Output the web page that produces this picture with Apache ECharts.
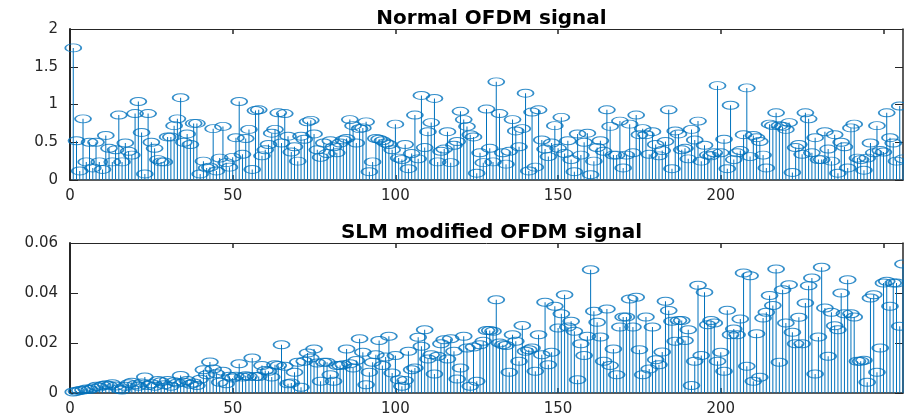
<!DOCTYPE html>
<html>
<head>
<meta charset="utf-8">
<script src="https://cdn.jsdelivr.net/npm/echarts@6/dist/echarts.min.js"></script>
<style>
html,body{margin:0;padding:0;background:#fff;}
#chart{width:904px;height:420px;}
</style>
</head>
<body>
<div id="chart"></div>
<script>
// ---- data ----
const titles = ['Normal OFDM signal', 'SLM modified OFDM signal'];
const xTicks = [0, 50, 100, 150, 200, 250];
const xMax = 256;

// |x[n]| of the normal OFDM signal, n = 1..256
const normalSignal = [
1.75,0.52,0.12,0.81,0.24,0.50,0.16,0.50,0.24,0.14,
0.59,0.42,0.24,0.40,0.86,0.24,0.49,0.38,0.33,0.88,
1.04,0.63,0.08,0.88,0.50,0.42,0.27,0.24,0.24,0.57,
0.57,0.72,0.81,1.09,0.50,0.61,0.47,0.75,0.75,0.08,
0.25,0.16,0.17,0.68,0.12,0.29,0.71,0.23,0.17,0.30,
0.56,1.04,0.34,0.55,0.67,0.14,0.92,0.93,0.32,0.40,
0.47,0.62,0.67,0.89,0.49,0.88,0.58,0.37,0.44,0.25,
0.58,0.54,0.77,0.79,0.61,0.40,0.30,0.49,0.35,0.52,
0.44,0.36,0.49,0.53,0.55,0.80,0.72,0.49,0.68,0.69,
0.77,0.11,0.24,0.55,0.54,0.52,0.49,0.47,0.40,0.74,
0.29,0.27,0.47,0.15,0.35,0.86,0.28,1.12,0.43,0.64,
0.76,1.08,0.24,0.38,0.41,0.64,0.23,0.46,0.51,0.91,
0.80,0.71,0.60,0.57,0.09,0.36,0.23,0.94,0.42,0.24,
1.30,0.88,0.36,0.21,0.38,0.80,0.65,0.44,0.68,1.15,
0.12,0.90,0.17,0.93,0.53,0.41,0.31,0.49,0.72,0.42,
0.83,0.35,0.52,0.27,0.11,0.61,0.33,0.50,0.62,0.07,
0.25,0.43,0.52,0.38,0.93,0.71,0.33,0.33,0.78,0.16,
0.33,0.74,0.36,0.86,0.60,0.68,0.60,0.34,0.64,0.47,
0.32,0.39,0.51,0.93,0.15,0.65,0.61,0.40,0.42,0.28,
0.67,0.53,0.78,0.25,0.46,0.33,0.32,0.36,1.25,0.36,
0.54,0.15,0.99,0.27,0.36,0.39,0.60,1.22,0.31,0.59,
0.56,0.51,0.33,0.16,0.74,0.72,0.89,0.72,0.71,0.67,
0.76,0.10,0.43,0.47,0.34,0.89,0.81,0.36,0.56,0.27,
0.27,0.64,0.41,0.25,0.60,0.09,0.50,0.44,0.16,0.69,
0.74,0.29,0.27,0.13,0.29,0.49,0.36,0.72,0.39,0.37,
0.89,0.56,0.49,0.25,0.98,0.28
];

// |x[n]| of the SLM modified OFDM signal, n = 1..256
const slmSignal = [
0.0004,0.0007,0.0010,0.0012,0.0016,0.0014,0.0020,0.0027,0.0024,0.0030,
0.0033,0.0030,0.0037,0.0028,0.0016,0.0012,0.0027,0.0037,0.0043,0.0033,
0.0027,0.0040,0.0064,0.0030,0.0037,0.0027,0.0050,0.0045,0.0033,0.0050,
0.0027,0.0045,0.0040,0.0070,0.0043,0.0050,0.0035,0.0040,0.0030,0.0055,
0.0093,0.0073,0.0124,0.0096,0.0077,0.0043,0.0087,0.0037,0.0067,0.0060,
0.0067,0.0117,0.0064,0.0069,0.0066,0.0140,0.0066,0.0066,0.0110,0.0090,
0.0087,0.0064,0.0113,0.0110,0.0193,0.0107,0.0037,0.0040,0.0083,0.0123,
0.0023,0.0127,0.0160,0.0140,0.0176,0.0120,0.0047,0.0123,0.0123,0.0073,
0.0047,0.0110,0.0110,0.0113,0.0176,0.0117,0.0100,0.0130,0.0217,0.0163,
0.0033,0.0083,0.0123,0.0153,0.0210,0.0110,0.0144,0.0227,0.0080,0.0150,
0.0053,0.0027,0.0050,0.0167,0.0093,0.0100,0.0223,0.0187,0.0253,0.0136,
0.0153,0.0076,0.0147,0.0197,0.0213,0.0136,0.0217,0.0167,0.0056,0.0100,
0.0227,0.0180,0.0027,0.0184,0.0047,0.0193,0.0207,0.0250,0.0250,0.0247,
0.0373,0.0200,0.0193,0.0190,0.0083,0.0233,0.0207,0.0127,0.0270,0.0167,
0.0173,0.0180,0.0087,0.0233,0.0153,0.0363,0.0113,0.0163,0.0347,0.0260,
0.0317,0.0393,0.0264,0.0287,0.0247,0.0053,0.0197,0.0150,0.0227,0.0493,
0.0327,0.0283,0.0224,0.0127,0.0336,0.0110,0.0176,0.0073,0.0264,0.0304,
0.0304,0.0376,0.0264,0.0383,0.0173,0.0073,0.0304,0.0096,0.0264,0.0133,
0.0113,0.0164,0.0367,0.0330,0.0287,0.0207,0.0290,0.0290,0.0210,0.0253,
0.0030,0.0127,0.0431,0.0150,0.0403,0.0273,0.0290,0.0280,0.0127,0.0163,
0.0087,0.0331,0.0233,0.0256,0.0233,0.0296,0.0480,0.0107,0.0469,0.0047,
0.0237,0.0063,0.0300,0.0323,0.0390,0.0350,0.0496,0.0123,0.0413,0.0280,
0.0433,0.0243,0.0197,0.0303,0.0197,0.0360,0.0429,0.0460,0.0076,0.0224,
0.0503,0.0340,0.0147,0.0323,0.0269,0.0253,0.0400,0.0317,0.0453,0.0317,
0.0304,0.0127,0.0127,0.0131,0.0043,0.0380,0.0393,0.0083,0.0180,0.0440,
0.0447,0.0347,0.0440,0.0440,0.0267,0.0516
];

const yRanges = [
  {min: 0, max: 2, interval: 0.5},
  {min: 0, max: 0.06, interval: 0.02}
];

// ---- styling ----
const AX = '#262626';
const BLUE = '#0072BD';
const FONT = 'DejaVu Sans';
const grids = [
  {left: 70, top: 29, width: 833, height: 151},
  {left: 70, top: 243, width: 833, height: 150}
];

const toPairs = arr => arr.map((v, i) => [i + 1, v]);
const signals = [normalSignal, slmSignal];

const xAxes = [], yAxes = [], series = [], titleOpts = [];
grids.forEach((g, gi) => {
  xAxes.push({
    type: 'value', gridIndex: gi, min: 0, max: xMax, interval: 50, position: 'bottom',
    axisLine: {show: true, onZero: false, lineStyle: {color: AX, width: 1.5}},
    axisTick: {show: true, inside: true, length: 5, customValues: xTicks, lineStyle: {color: AX, width: 1.5}},
    axisLabel: {show: true, customValues: xTicks, showMaxLabel: false, margin: 9,
      fontFamily: FONT, fontSize: 15, color: AX,
      formatter: v => (v % 50 === 0 ? String(v) : '')},
    splitLine: {show: false}
  });
  xAxes.push({
    type: 'value', gridIndex: gi, min: 0, max: xMax, interval: 50, position: 'top',
    axisLine: {show: true, onZero: false, lineStyle: {color: AX, width: 1}},
    axisTick: {show: true, inside: true, length: 5, customValues: xTicks, lineStyle: {color: AX, width: 1.5}},
    axisLabel: {show: false},
    splitLine: {show: false}
  });
  const yr = yRanges[gi];
  yAxes.push({
    type: 'value', gridIndex: gi, min: yr.min, max: yr.max, interval: yr.interval, position: 'left',
    axisLine: {show: true, onZero: false, lineStyle: {color: AX, width: 2}},
    axisTick: {show: true, inside: true, length: 8, lineStyle: {color: AX, width: 1}},
    axisLabel: {show: true, margin: 12, fontFamily: FONT, fontSize: 15, color: AX},
    splitLine: {show: false}
  });
  yAxes.push({
    type: 'value', gridIndex: gi, min: yr.min, max: yr.max, interval: yr.interval, position: 'right',
    axisLine: {show: true, onZero: false, lineStyle: {color: AX, width: 1.5}},
    axisTick: {show: true, inside: true, length: 8, lineStyle: {color: AX, width: 1}},
    axisLabel: {show: false},
    splitLine: {show: false}
  });
  const data = toPairs(signals[gi]);
  series.push({
    type: 'bar', xAxisIndex: gi * 2, yAxisIndex: gi * 2, data: data,
    barWidth: 1, itemStyle: {color: BLUE}, silent: true, animation: false, z: 2
  });
  series.push({
    type: 'scatter', xAxisIndex: gi * 2, yAxisIndex: gi * 2, data: data,
    symbol: 'circle', symbolSize: [16, 8], clip: false,
    itemStyle: {color: 'rgba(0,0,0,0)', borderColor: BLUE, borderWidth: 1.3},
    silent: true, animation: false, z: 3
  });
  titleOpts.push({
    text: titles[gi], left: g.left + g.width / 2, top: g.top - 25, textAlign: 'center',
    textStyle: {fontFamily: FONT, fontWeight: 'bold', fontSize: 20, color: '#000'}
  });
});

const chart = echarts.init(document.getElementById('chart'), null, {renderer: 'canvas'});
chart.setOption({
  backgroundColor: '#fff',
  animation: false,
  title: titleOpts,
  grid: grids,
  xAxis: xAxes,
  yAxis: yAxes,
  series: series
});
</script>
</body>
</html>
